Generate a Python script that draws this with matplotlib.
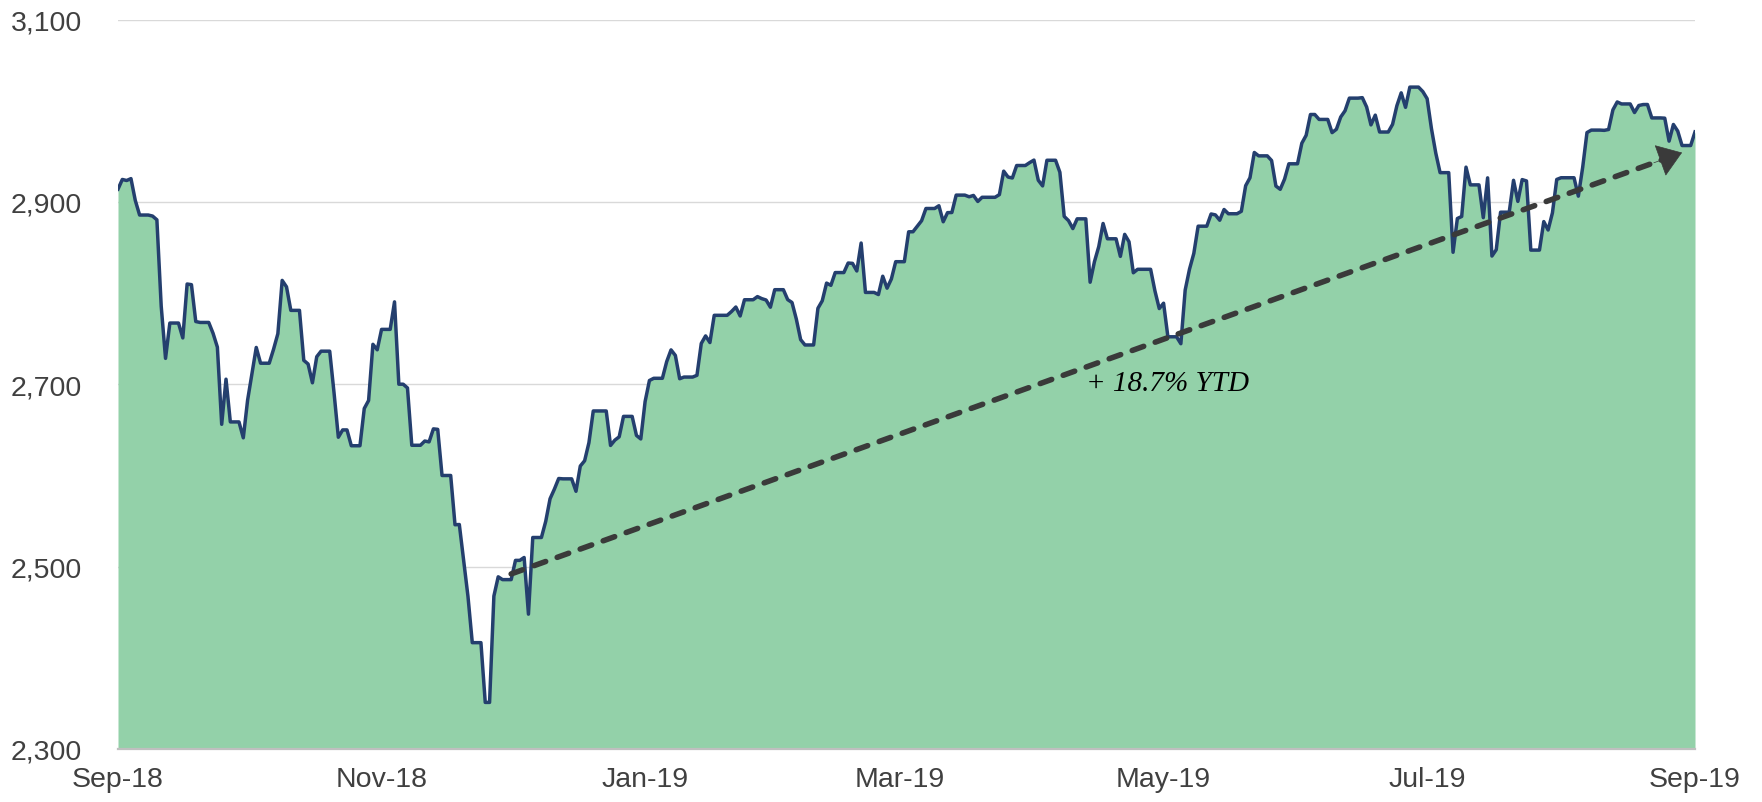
import matplotlib
matplotlib.use("Agg")
import matplotlib.pyplot as plt
import matplotlib.dates as mdates
import pandas as pd
import numpy as np

# ---------------- data (S&P 500 daily closes) ----------------
sep18_days = [28]
sep18 = [2913.98]
oct18_days = [1, 2, 3, 4, 5, 8, 9, 10, 11, 12, 15, 16, 17, 18, 19, 22, 23, 24, 25, 26, 29, 30, 31]
oct18 = [2924.59, 2923.43, 2925.51, 2901.61, 2885.57, 2884.43, 2880.34, 2785.68, 2728.37, 2767.13,
         2750.79, 2809.92, 2809.21, 2768.78, 2767.78, 2755.88, 2740.69, 2656.10, 2705.57, 2658.69,
         2641.25, 2682.63, 2711.74]
nov18_days = [1, 2, 5, 6, 7, 8, 9, 12, 13, 14, 15, 16, 19, 20, 21, 23, 26, 27, 28, 29, 30]
nov18 = [2740.37, 2723.06, 2738.31, 2755.45, 2813.89, 2806.83, 2781.01, 2726.22, 2722.18, 2701.58,
         2730.20, 2736.27, 2690.73, 2641.89, 2649.93, 2632.56, 2673.45, 2682.17, 2743.79, 2737.80,
         2760.17]
dec18_days = [3, 4, 6, 7, 10, 11, 12, 13, 14, 17, 18, 19, 20, 21, 24, 26, 27, 28, 31]
dec18 = [2790.37, 2700.06, 2695.95, 2633.08, 2637.72, 2636.78, 2651.07, 2650.54, 2599.95, 2545.94,
         2546.16, 2506.96, 2467.42, 2416.62, 2351.10, 2467.70, 2488.83, 2485.74, 2506.85]
jan19_days = [2, 3, 4, 7, 8, 9, 10, 11, 14, 15, 16, 17, 18, 22, 23, 24, 25, 28, 29, 30, 31]
jan19 = [2510.03, 2447.89, 2531.94, 2549.69, 2574.41, 2584.96, 2596.64, 2596.26, 2582.61, 2610.30,
         2616.10, 2635.96, 2670.71, 2632.90, 2638.70, 2642.33, 2664.76, 2643.85, 2640.00, 2681.05,
         2704.10]
feb19_days = [1, 4, 5, 6, 7, 8, 11, 12, 13, 14, 15, 19, 20, 21, 22, 25, 26, 27, 28]
feb19 = [2706.53, 2724.87, 2737.70, 2731.61, 2706.05, 2707.88, 2709.80, 2744.73, 2753.03, 2745.73,
         2775.60, 2779.76, 2784.70, 2774.88, 2792.67, 2796.11, 2793.90, 2792.38, 2784.49]
mar19_days = [1, 4, 5, 6, 7, 8, 11, 12, 13, 14, 15, 18, 19, 20, 21, 22, 25, 26, 27, 28, 29]
mar19 = [2803.69, 2792.81, 2789.65, 2771.45, 2748.93, 2743.07, 2783.30, 2791.52, 2810.92, 2808.48,
         2822.48, 2832.94, 2832.57, 2824.23, 2854.88, 2800.71, 2798.36, 2818.46, 2805.37, 2815.44,
         2834.40]
apr19_days = [1, 2, 3, 4, 5, 8, 9, 10, 11, 12, 15, 16, 17, 18, 22, 23, 24, 25, 26, 29, 30]
apr19 = [2867.19, 2867.24, 2873.40, 2879.39, 2892.74, 2895.77, 2878.20, 2888.21, 2888.32, 2907.41,
         2905.58, 2907.06, 2900.45, 2905.03, 2907.97, 2933.68, 2927.25, 2926.17, 2939.88, 2943.03,
         2945.83]
may19_days = [1, 2, 3, 6, 7, 8, 9, 10, 13, 14, 15, 16, 17, 20, 21, 22, 23, 24, 28, 29, 30, 31]
may19 = [2923.73, 2917.52, 2945.64, 2932.47, 2884.05, 2879.42, 2870.72, 2881.40, 2811.87, 2834.41,
         2850.96, 2876.32, 2859.53, 2840.23, 2864.36, 2856.27, 2822.24, 2826.06, 2802.39, 2783.02,
         2788.86, 2752.06]
jun19_days = [3, 4, 5, 6, 7, 10, 11, 12, 13, 14, 17, 18, 19, 20, 21, 24, 25, 26, 27, 28]
jun19 = [2744.45, 2803.27, 2826.15, 2843.49, 2873.34, 2886.73, 2885.72, 2879.84, 2891.64, 2886.98,
         2889.67, 2917.75, 2926.46, 2954.18, 2950.46, 2945.35, 2917.38, 2913.78, 2924.92, 2941.76]
jul19_days = [1, 2, 3, 5, 8, 9, 10, 11, 12, 15, 16, 17, 18, 19, 22, 23, 24, 25, 26, 29, 30, 31]
jul19 = [2964.33, 2973.01, 2995.82, 2990.41, 2975.95, 2979.63, 2993.07, 2999.91, 3013.77, 3014.30,
         3004.04, 2984.42, 2995.11, 2976.61, 2985.03, 3005.47, 3019.56, 3003.67, 3025.86, 3020.97,
         3013.18, 2980.38]
aug19_days = [1, 2, 5, 6, 7, 8, 9, 12, 13, 14, 15, 16, 19, 20, 21, 22, 23, 26, 27, 28, 29, 30]
aug19 = [2953.56, 2932.05, 2844.74, 2881.77, 2883.98, 2938.09, 2918.65, 2882.70, 2926.32, 2840.60,
         2847.60, 2888.68, 2923.65, 2900.51, 2924.43, 2922.95, 2847.11, 2878.38, 2869.16, 2887.94,
         2924.58, 2926.46]
sep19_days = [3, 4, 5, 6, 9, 10, 11, 12, 13, 16, 17, 18, 19, 20, 23, 24, 25, 26, 27, 30]
sep19 = [2906.27, 2937.78, 2976.00, 2978.71, 2978.43, 2979.39, 3000.93, 3009.57, 3007.39, 2997.96,
         3005.70, 3006.73, 3006.79, 2992.07, 2991.78, 2966.60, 2984.87, 2977.62, 2961.79, 2976.74]

x_start, x_end = "2018-09-30", "2019-09-30"
y_ticks = [2300, 2500, 2700, 2900, 3100]
x_ticks = ["2018-09-30", "2018-11-30", "2019-01-30", "2019-03-30", "2019-05-30", "2019-07-30", "2019-09-30"]
ytd_label = "+ 18.7% YTD"
arrow_from = ("2018-12-30", 2492)
arrow_to = ("2019-09-27", 2954)
label_pos = ("2019-05-31", 2701)

# ---------------- build series ----------------
months = [("2018-09", sep18_days, sep18), ("2018-10", oct18_days, oct18), ("2018-11", nov18_days, nov18),
          ("2018-12", dec18_days, dec18), ("2019-01", jan19_days, jan19), ("2019-02", feb19_days, feb19),
          ("2019-03", mar19_days, mar19), ("2019-04", apr19_days, apr19), ("2019-05", may19_days, may19),
          ("2019-06", jun19_days, jun19), ("2019-07", jul19_days, jul19), ("2019-08", aug19_days, aug19),
          ("2019-09", sep19_days, sep19)]
dates, vals = [], []
for ym, ds, vs in months:
    dates += [f"{ym}-{d:02d}" for d in ds]
    vals += vs
s = pd.Series(vals, index=pd.to_datetime(dates))
cal = pd.date_range(x_start, x_end, freq="D")
daily = s.reindex(s.index.union(cal)).ffill().reindex(cal)

# ---------------- plot ----------------
W, H = 1762, 803
fig = plt.figure(figsize=(W / 100, H / 100), dpi=100)
ax = fig.add_axes([118 / W, 1 - 750 / H, (1695 - 118) / W, (750 - 20.5) / H])

ax.fill_between(daily.index, daily.values, y_ticks[0], color="#93D1A9", lw=0, zorder=1)
ax.plot(daily.index, daily.values, color="#243F6E", lw=2.5, zorder=3, solid_joinstyle="round")

ax.set_xlim(pd.Timestamp(x_start), pd.Timestamp(x_end))
ax.set_ylim(y_ticks[0], y_ticks[-1])
ax.set_yticks(y_ticks)
ax.set_yticklabels([f"{v:,}" for v in y_ticks])
xt = pd.to_datetime(x_ticks)
ax.set_xticks(xt)
ax.set_xticklabels([d.strftime("%b-%y") for d in xt])

ax.set_axisbelow(True)
ax.yaxis.grid(True, color="#D9D9D9", lw=1.0, zorder=0.5)
for sp in ["left", "right", "top"]:
    ax.spines[sp].set_visible(False)
ax.spines["bottom"].set_color("#BFBFBF")
ax.spines["bottom"].set_linewidth(1.6)
ax.spines["bottom"].set_zorder(2.5)

for lab in ax.get_xticklabels() + ax.get_yticklabels():
    lab.set_fontfamily(["Liberation Sans", "DejaVu Sans"])
ax.tick_params(axis="both", length=0, labelsize=20.5, labelcolor="#404040")
ax.tick_params(axis="x", pad=12)
ax.tick_params(axis="y", pad=26)

# dashed trend arrow
x0, y0 = pd.Timestamp(arrow_from[0]), arrow_from[1]
x1, y1 = pd.Timestamp(arrow_to[0]), arrow_to[1]
p0 = ax.transData.transform((mdates.date2num(x0), y0))
p1 = ax.transData.transform((mdates.date2num(x1), y1))
d = (p1 - p0) / np.linalg.norm(p1 - p0)
pb = p1 - d * 16
xb, yb = ax.transData.inverted().transform(pb)
ax.plot([mdates.date2num(x0), xb], [y0, yb], color="#3A3A3A", lw=4.0,
        ls=(0, (2.2, 2.2)), dash_capstyle="round", zorder=4)
pt = p1 - d * 30
xt2, yt2 = ax.transData.inverted().transform(pt)
ax.annotate("", xy=(mdates.date2num(x1), y1), xytext=(xt2, yt2),
            arrowprops=dict(arrowstyle="-|>,head_length=0.4,head_width=0.28", mutation_scale=40,
                            color="#3A3A3A", lw=0.5, shrinkA=0, shrinkB=0), zorder=5)

ax.text(pd.Timestamp(label_pos[0]), label_pos[1], ytd_label, ha="center", va="center",
        fontsize=21, style="italic", family=["Liberation Serif", "DejaVu Serif"], color="black", zorder=6)

fig.savefig("out.png", dpi=100)
